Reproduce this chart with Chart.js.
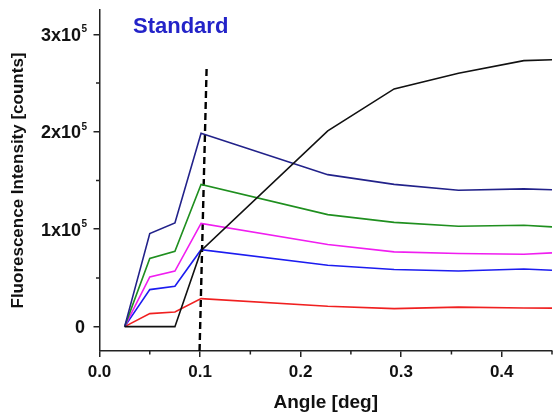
<!DOCTYPE html>
<html>
<head>
<meta charset="utf-8">
<script src="https://cdn.jsdelivr.net/npm/chart.js@4.4.1/dist/chart.umd.min.js"></script>
<style>
  html, body { margin: 0; padding: 0; background: #fff; }
</style>
</head>
<body>
<canvas id="myChart" width="555" height="413"></canvas>
<script>
// incidence angle [deg]
const angles = [0.025, 0.05, 0.075, 0.101, 0.227, 0.293, 0.357, 0.422, 0.45];
// fluorescence counts per trace
const navyCounts    = [0, 95600, 106500, 198500, 156000, 146000, 140000, 141400, 140500];
const greenCounts   = [0, 70000, 77400, 146000, 115000, 107000, 103000, 104000, 102400];
const magentaCounts = [0, 51000, 57100, 106000, 84300, 76700, 75000, 74300, 75700];
const blueCounts    = [0, 38000, 41400, 79000, 63000, 58600, 57100, 59200, 57900];
const redCounts     = [0, 13400, 15000, 28800, 20900, 18500, 20000, 19100, 19000];
const blackCounts   = [0, 0, 0, 78000, 201000, 244000, 260000, 273000, 274000];
// dashed marker near 0.1 deg
const markerX = [0.0995, 0.1065];
const markerY = [-25000, 264500];

// axis ticks
const xTicks = [0, 0.1, 0.2, 0.3, 0.4];
const xMinor = [0.05, 0.15, 0.25, 0.35, 0.45];
const yTicks = [0, 100000, 200000, 300000];
const yMinor = [50000, 150000, 250000];
const yLabels = ['0', '1x10', '2x10', '3x10'];
const yExp = ['', '5', '5', '5'];

const FONT = '"Liberation Sans", Arial, sans-serif';
const AXIS = '#222';

function toPoints(xs, ys) {
  return xs.map((x, i) => ({x: x, y: ys[i]}));
}

function trace(counts, color) {
  return {
    data: toPoints(angles, counts),
    borderColor: color,
    borderWidth: 1.6,
    pointRadius: 0,
    showLine: true,
    fill: false,
    tension: 0
  };
}

// minor ticks, y labels with exponent, and the panel title
const axisExtras = {
  id: 'axisExtras',
  afterDraw(chart) {
    const ctx = chart.ctx, xs = chart.scales.x, ys = chart.scales.y;
    const area = chart.chartArea;
    ctx.save();
    ctx.strokeStyle = AXIS;
    ctx.lineWidth = 1.5;
    ctx.beginPath();
    xMinor.forEach(v => {
      const px = xs.getPixelForValue(v);
      ctx.moveTo(px, area.bottom);
      ctx.lineTo(px, area.bottom + 3.5);
    });
    yMinor.forEach(v => {
      const py = ys.getPixelForValue(v);
      ctx.moveTo(area.left, py);
      ctx.lineTo(area.left - 3.5, py);
    });
    ctx.stroke();

    ctx.fillStyle = '#111';
    ctx.textBaseline = 'alphabetic';
    ctx.textAlign = 'right';
    yTicks.forEach((v, i) => {
      const py = ys.getPixelForValue(v);
      let right = area.left - 12.5;
      if (yExp[i]) {
        ctx.font = 'bold 10px ' + FONT;
        ctx.fillText(yExp[i], right, py - 2);
        right -= ctx.measureText(yExp[i]).width + 0.5;
      } else {
        right -= 2;
      }
      ctx.font = 'bold 18px ' + FONT;
      ctx.fillText(yLabels[i], right, py + 6.5);
    });

    ctx.fillStyle = '#2323c8';
    ctx.font = 'bold 22px ' + FONT;
    ctx.textAlign = 'left';
    ctx.fillText('Standard', 133, 33);
    ctx.restore();
  }
};

const config = {
  type: 'scatter',
  data: {
    datasets: [
      trace(blackCounts, '#111111'),
      trace(navyCounts, '#22228a'),
      trace(greenCounts, '#1f8f1f'),
      trace(magentaCounts, '#f01ef0'),
      trace(blueCounts, '#1c1cf0'),
      trace(redCounts, '#f02020'),
      {
        data: toPoints(markerX, markerY),
        borderColor: '#000',
        borderWidth: 2.4,
        borderDash: [7, 4],
        pointRadius: 0,
        showLine: true,
        clip: false
      }
    ]
  },
  options: {
    responsive: false,
    animation: false,
    layout: { padding: { top: 10, right: 3, left: 0, bottom: 0 } },
    plugins: { legend: { display: false }, tooltip: { enabled: false } },
    scales: {
      x: {
        type: 'linear',
        min: 0,
        max: 0.45,
        afterBuildTicks: s => { s.ticks = xTicks.map(v => ({value: v})); },
        afterFit: s => { s.height = 62; },
        ticks: {
          callback: v => v.toFixed(1),
          font: { family: FONT, size: 17, weight: 'bold' },
          color: '#111',
          padding: 5,
          maxRotation: 0,
          autoSkip: false
        },
        grid: { drawOnChartArea: false, tickLength: 6, color: AXIS, lineWidth: 1.5 },
        border: { color: AXIS, width: 1.5 },
        title: {
          display: true,
          text: 'Angle [deg]',
          color: '#111',
          font: { family: FONT, size: 19, weight: 'bold', lineHeight: 1 },
          padding: { top: 0, bottom: 1 }
        }
      },
      y: {
        type: 'linear',
        min: -25000,
        max: 325000,
        afterBuildTicks: s => { s.ticks = yTicks.map(v => ({value: v})); },
        afterFit: s => { s.width = 99.5; },
        ticks: { display: false },
        grid: { drawOnChartArea: false, tickLength: 6, color: AXIS, lineWidth: 1.5 },
        border: { color: AXIS, width: 1.5 },
        title: {
          display: true,
          text: 'Fluorescence Intensity [counts]',
          color: '#111',
          font: { family: FONT, size: 17, weight: 'bold' },
          padding: { top: 8, bottom: 0 }
        }
      }
    }
  },
  plugins: [axisExtras]
};

const ctx = document.getElementById('myChart').getContext('2d');
const myChart = new Chart(ctx, config);
</script>
</body>
</html>
